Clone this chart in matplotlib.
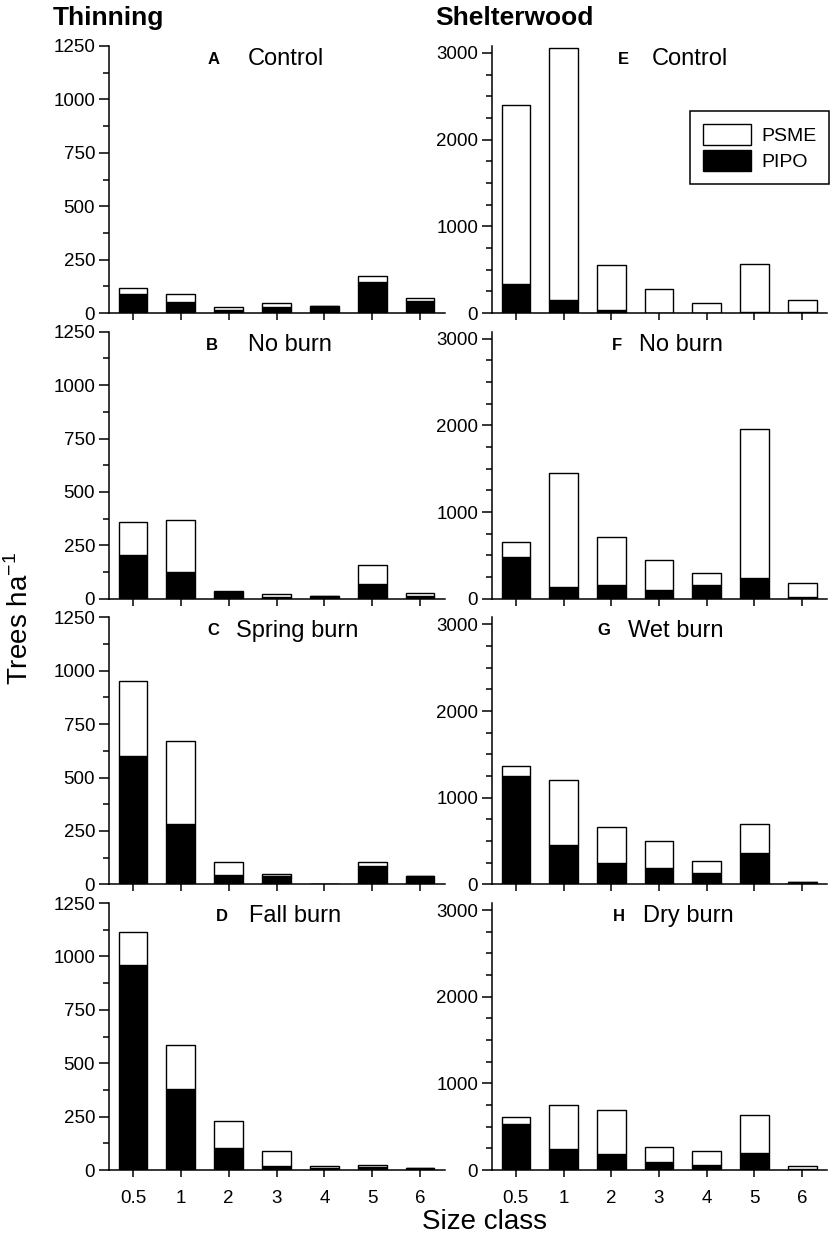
import matplotlib
matplotlib.use("Agg")
import matplotlib.pyplot as plt
from matplotlib.patches import Patch
from matplotlib.ticker import MultipleLocator
import numpy as np

plt.rcParams['font.family'] = ['Liberation Sans', 'DejaVu Sans']

size_classes = ['0.5', '1', '2', '3', '4', '5', '6']

# PIPO (black, bottom) and PSME (white, stacked on top), trees per ha
pipo_a = [90, 50, 15, 30, 35, 143, 55]
psme_a = [27, 39, 15, 18, 0, 32, 13]
pipo_b = [206, 123, 32, 6, 14, 70, 12]
psme_b = [151, 247, 2, 14, 0, 87, 13]
pipo_c = [600, 285, 42, 39, 0, 87, 40]
psme_c = [354, 386, 62, 12, 0, 17, 0]
pipo_d = [958, 378, 105, 20, 9, 14, 10]
psme_d = [156, 208, 123, 69, 11, 11, 2]

pipo_e = [335, 147, 31, 3, 2, 12, 12]
psme_e = [2060, 2915, 517, 275, 114, 559, 135]
pipo_f = [476, 139, 155, 97, 162, 240, 15]
psme_f = [181, 1311, 560, 355, 140, 1716, 163]
pipo_g = [1253, 456, 244, 193, 135, 367, 31]
psme_g = [116, 754, 421, 310, 132, 333, 0]
pipo_h = [532, 243, 189, 93, 58, 197, 12]
psme_h = [77, 509, 505, 173, 158, 435, 38]

letters = ['A', 'B', 'C', 'D', 'E', 'F', 'G', 'H']
names = ['Control', 'No burn', 'Spring burn', 'Fall burn',
         'Control', 'No burn', 'Wet burn', 'Dry burn']
pipo_all = [pipo_a, pipo_b, pipo_c, pipo_d, pipo_e, pipo_f, pipo_g, pipo_h]
psme_all = [psme_a, psme_b, psme_c, psme_d, psme_e, psme_f, psme_g, psme_h]

# letter centre / label left, in axes fraction
letter_x = [0.31, 0.307, 0.31, 0.336, 0.391, 0.373, 0.334, 0.379]
label_x = [0.414, 0.414, 0.378, 0.417, 0.478, 0.439, 0.406, 0.451]

W, H = 833, 1246
fig = plt.figure(figsize=(W / 100, H / 100), dpi=100)

col_x = [109, 492]
col_w = [336, 335]
row_top0 = 46
pitch = 285.7
ax_h = 267

x = np.arange(len(size_classes))
for i in range(8):
    col = i // 4
    row = i % 4
    top = row_top0 + row * pitch
    ax = fig.add_axes([col_x[col] / W, 1 - (top + ax_h) / H,
                       col_w[col] / W, ax_h / H])
    ax.patch.set_alpha(0)
    pipo = pipo_all[i]
    psme = psme_all[i]
    ax.bar(x, pipo, width=0.6, color='black', edgecolor='black', linewidth=1)
    ax.bar(x, psme, bottom=pipo, width=0.6, color='white',
           edgecolor='black', linewidth=1)
    ax.set_xlim(-0.5, 6.52)
    if col == 0:
        ax.set_ylim(0, 1250)
        ax.yaxis.set_major_locator(MultipleLocator(250))
        ax.yaxis.set_minor_locator(MultipleLocator(125))
    else:
        ax.set_ylim(0, 3080)
        ax.set_yticks([0, 1000, 2000, 3000])
        ax.yaxis.set_minor_locator(MultipleLocator(250))
    ax.set_xticks(x)
    if row == 3:
        ax.set_xticklabels(size_classes)
    else:
        ax.set_xticklabels([])
    for s in ['top', 'right']:
        ax.spines[s].set_visible(False)
    for s in ['left', 'bottom']:
        ax.spines[s].set_linewidth(1.1)
    ax.tick_params(axis='y', which='major', direction='out', length=7,
                   width=1.1, labelsize=13.5, pad=3)
    ax.tick_params(axis='y', which='minor', direction='out', length=4,
                   width=1.1)
    ax.tick_params(axis='x', which='major', direction='out', length=5,
                   width=1.1, labelsize=13.5, pad=9)
    ax.text(letter_x[i], 0.95, letters[i], transform=ax.transAxes,
            ha='center', va='center', fontsize=12, fontweight='bold')
    ax.text(label_x[i], 0.95, names[i], transform=ax.transAxes,
            ha='left', va='center', fontsize=17)
    if i == 4:
        handles = [Patch(facecolor='white', edgecolor='black', label='PSME'),
                   Patch(facecolor='black', edgecolor='black', label='PIPO')]
        leg = ax.legend(handles=handles, loc='upper right',
                        bbox_to_anchor=(1.006, 0.757), fontsize=14,
                        frameon=True, fancybox=False, framealpha=1,
                        handlelength=2.5, handleheight=1.3,
                        borderpad=0.65, labelspacing=0.28, handletextpad=0.5,
                        borderaxespad=0)
        leg.get_frame().set_edgecolor('black')
        leg.get_frame().set_linewidth(1.1)

fig.text(53 / W, 1 - 18 / H, 'Thinning', fontsize=19, fontweight='bold',
         ha='left', va='center')
fig.text(435 / W, 1 - 18 / H, 'Shelterwood', fontsize=19, fontweight='bold',
         ha='left', va='center')
fig.text(20 / W, 1 - 618 / H, 'Trees ha$^{\\mathregular{-1}}$', fontsize=20,
         rotation=90, ha='center', va='center')
fig.text(484 / W, 1 - 1222 / H, 'Size class', fontsize=20,
         ha='center', va='center')

fig.savefig('out.png', dpi=100)
